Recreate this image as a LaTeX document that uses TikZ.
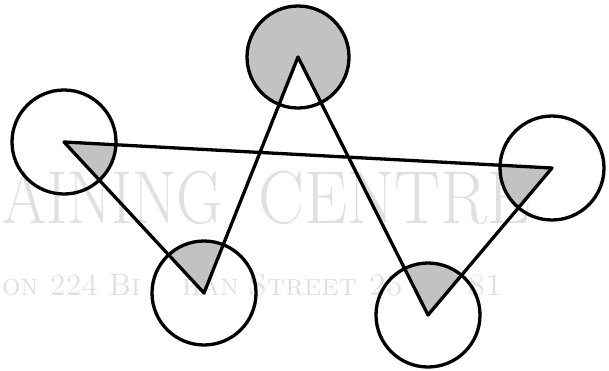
\documentclass[tikz,border=0pt]{standalone}
\usetikzlibrary{calc}
\begin{document}
\begin{tikzpicture}[x=1pt,y=-1pt,
  edge/.style={line width=3.3pt, line join=round, line cap=round},
  ring/.style={line width=3.3pt},
  sector/.style={fill=black!24},
  wm/.style={text=black!12, inner sep=0pt}]
\useasboundingbox (0,0) rectangle (609,370);
% faint watermark
\node[wm, anchor=base west, font=\fontsize{75}{75}\selectfont] (wm1) at (2,223) {\resizebox{221pt}{\height}{AINING}};
\node[wm, anchor=base west, font=\fontsize{75}{75}\selectfont] (wm2) at (258,223) {\resizebox{272pt}{\height}{CENTRE}};
\node[wm, anchor=base west, font=\fontsize{31}{31}\selectfont\scshape] (wm3) at (2,295) {\resizebox{138pt}{\height}{on 224 Bi}};
\node[wm, anchor=base west, font=\fontsize{31}{31}\selectfont\scshape] (wm4) at (182,295) {han};
\node[wm, anchor=base west, font=\fontsize{31}{31}\selectfont\scshape] (wm5) at (248,295) {Street 25};
\node[wm, anchor=base west, font=\fontsize{31}{31}\selectfont\scshape] (wm6) at (468,295) {81};
% vertices
\coordinate (L) at (64,142);
\coordinate (BL) at (204,293);
\coordinate (T) at (298,57);
\coordinate (BR) at (428,315);
\coordinate (R) at (552,168);
% interior sectors
\foreach \v/\a/\b in {L/R/BL, BL/L/T, BR/T/R, R/BR/L}{
  \begin{scope}
    \clip (\v) circle[radius=52];
    \fill[sector] (\v) -- ($(\v)!3!(\a)$) -- ($(\v)!3!(\b)$) -- cycle;
  \end{scope}
}
% top: reflex part shaded
\begin{scope}
  \clip (T) circle[radius=51];
  \fill[sector, even odd rule] (T) circle[radius=51]
    (T) -- ($(T)!3!(BL)$) -- ($(T)!3!(BR)$) -- cycle;
\end{scope}
% circles
\draw[ring] (L) circle[radius=52];
\draw[ring] (BL) circle[radius=52];
\draw[ring] (T) circle[radius=51];
\draw[ring] (BR) circle[radius=52];
\draw[ring] (R) circle[radius=52];
% star
\draw[edge] (L) -- (BL) -- (T) -- (BR) -- (R) -- cycle;
\end{tikzpicture}
\end{document}
